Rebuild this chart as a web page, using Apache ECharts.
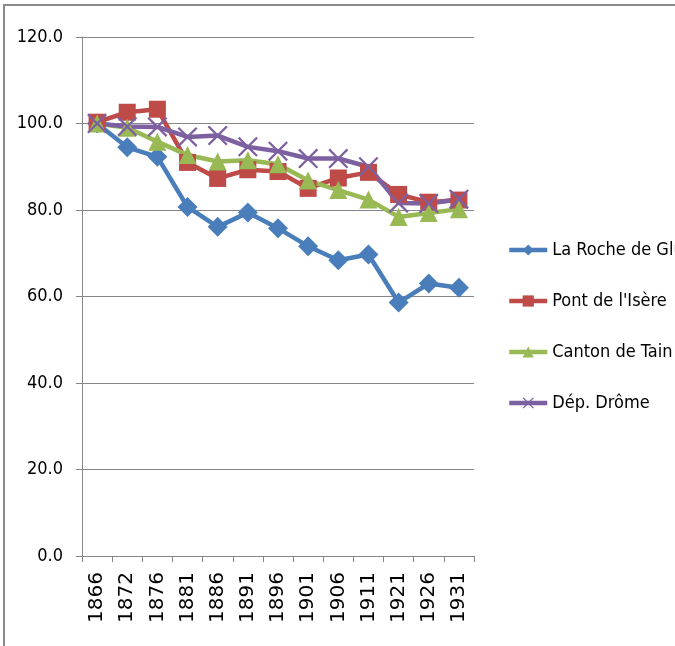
<!DOCTYPE html>
<html>
<head>
<meta charset="utf-8">
<style>html,body{margin:0;padding:0;background:#fff}#c{width:675px;height:646px}</style>
<script src="https://cdn.jsdelivr.net/npm/echarts@6/dist/echarts.min.js"></script>
</head>
<body>
<div id="c"></div>
<script>
const years = ['1866','1872','1876','1881','1886','1891','1896','1901','1906','1911','1921','1926','1931'];
const laRoche = [100.0, 94.5, 92.3, 80.7, 76.1, 79.4, 75.8, 71.6, 68.4, 69.7, 58.6, 63.0, 62.0];
const pontIsere = [100.3, 102.6, 103.3, 91.0, 87.3, 89.3, 88.9, 85.0, 87.4, 88.7, 83.6, 81.8, 82.3];
const cantonTain = [100.0, 99.0, 95.8, 92.7, 91.2, 91.5, 90.6, 86.8, 84.6, 82.4, 78.4, 79.3, 80.2];
const depDrome = [100.0, 99.3, 99.2, 96.9, 97.2, 94.6, 93.6, 91.9, 91.9, 90.0, 81.6, 81.5, 82.5];
const seriesNames = ['La Roche de Glun', "Pont de l'Isère", 'Canton de Tain', 'Dép. Drôme'];
const yTicks = [0, 20, 40, 60, 80, 100, 120];

const crossPath = 'path://M0,1.6L1.6,0L10,8.4L18.4,0L20,1.6L11.6,10L20,18.4L18.4,20L10,11.6L1.6,20L0,18.4L8.4,10Z';
const narrow = '"DejaVu Sans Condensed", "Liberation Sans Narrow", sans-serif';

const chart = echarts.init(document.getElementById('c'), null, {renderer: 'canvas'});
const mk = (name, data, color, symbol, size) => ({
  name, type: 'line', data, symbol, symbolSize: size,
  lineStyle: {color, width: 4.5},
  itemStyle: {color},
  emphasis: {disabled: true},
  animation: false
});
chart.setOption({
  animation: false,
  grid: {left: 82, right: 201, top: 37, bottom: 90, containLabel: false},
  xAxis: {
    type: 'category', data: years, boundaryGap: true,
    axisLine: {lineStyle: {color: '#868686', width: 1}},
    axisTick: {show: true, length: 6, interval: 0, lineStyle: {color: '#868686'}},
    axisLabel: {rotate: 90, interval: 0, margin: 16, fontFamily: '"DejaVu Sans", sans-serif', fontSize: 20, color: '#000'},
    splitLine: {show: false}
  },
  yAxis: {
    type: 'value', min: yTicks[0], max: yTicks[yTicks.length - 1], interval: 20,
    axisLine: {show: true, lineStyle: {color: '#868686', width: 1}},
    axisTick: {show: true, length: 6, lineStyle: {color: '#868686'}},
    axisLabel: {margin: 19, fontFamily: narrow, fontSize: 18, color: '#000', formatter: v => v.toFixed(1)},
    splitLine: {show: true, lineStyle: {color: '#868686', width: 1}}
  },
  legend: {
    orient: 'vertical', left: 507, top: 239, padding: 0, itemWidth: 38, itemHeight: 14, itemGap: 29,
    lineStyle: {width: 4.5},
    textStyle: {fontFamily: narrow, fontSize: 18, color: '#000', lineHeight: 22},
    data: seriesNames
  },
  graphic: [
    {type: 'line', shape: {x1: 3, y1: 5, x2: 675, y2: 5}, style: {stroke: '#8a8a8a', lineWidth: 2}},
    {type: 'line', shape: {x1: 4, y1: 4, x2: 4, y2: 646}, style: {stroke: '#8a8a8a', lineWidth: 2}}
  ],
  series: [
    mk(seriesNames[0], laRoche, '#4A7EBB', 'diamond', 20),
    mk(seriesNames[1], pontIsere, '#BE4B48', 'rect', 17),
    mk(seriesNames[2], cantonTain, '#98B954', 'triangle', 18),
    mk(seriesNames[3], depDrome, '#7D60A0', crossPath, 20)
  ]
});
</script>
</body>
</html>
